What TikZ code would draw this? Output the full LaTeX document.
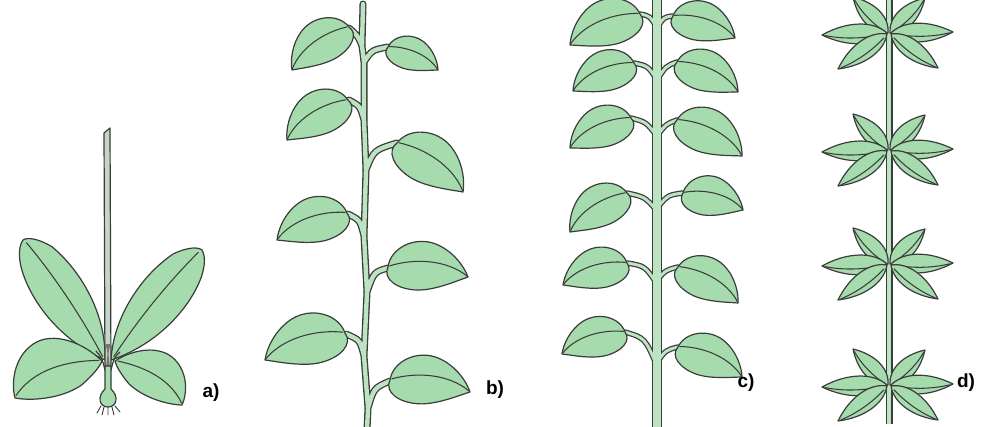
\documentclass[tikz,border=0pt]{standalone}
\usepackage{fontspec}
\setmainfont{Liberation Sans}
\definecolor{inkgray}{RGB}{58,60,58}
\definecolor{leafgreen}{RGB}{166,219,174}
\definecolor{stemgreen}{RGB}{188,227,194}
\definecolor{stemgray}{RGB}{196,214,198}

% leaf outlines in a unit frame: base at (0,0), tip at (1,0), +v is the bulging side
\newcommand\ovateleaf{%
  \filldraw[leafbody] (0,0) .. controls (0.0,0.28) and (0.28,0.5) .. (0.55,0.42)
    .. controls (0.78,0.35) and (0.94,0.14) .. (1,0)
    .. controls (0.86,-0.08) and (0.62,-0.25) .. (0.4,-0.28)
    .. controls (0.14,-0.31) and (-0.05,-0.18) .. cycle;
  \draw[vein] (0.02,0.02) .. controls (0.3,0.17) and (0.7,0.22) .. (0.99,0.01);}
\newcommand\ellipleaf{%
  \filldraw[leafbody] (0,0) .. controls (0.25,0.2) and (0.6,0.23) .. (0.85,0.15)
    .. controls (0.95,0.1) and (1,0.04) .. (1,0)
    .. controls (0.98,-0.06) and (0.9,-0.12) .. (0.78,-0.15)
    .. controls (0.55,-0.21) and (0.25,-0.17) .. cycle;
  \draw[vein] (0.03,0) .. controls (0.35,0.04) and (0.7,0.04) .. (0.97,0.01);}
\newcommand\broadleaf{%
  \filldraw[leafbody] (0,0) .. controls (0.1,0.25) and (0.35,0.5) .. (0.6,0.45)
    .. controls (0.85,0.4) and (0.98,0.15) .. (1,0)
    .. controls (0.85,-0.1) and (0.55,-0.2) .. (0.3,-0.15)
    .. controls (0.15,-0.1) and (0.05,-0.05) .. cycle;
  \draw[vein] (0.03,0.02) .. controls (0.35,0.15) and (0.7,0.2) .. (0.98,0.02);}
\newcommand\narrowleaf{%
  \filldraw[leafbody] (0,0) .. controls (0.2,0.17) and (0.6,0.18) .. (1,0)
    .. controls (0.6,-0.18) and (0.2,-0.17) .. cycle;
  \draw[vein] (0.08,0.02) .. controls (0.4,0.07) and (0.7,0.06) .. (0.95,0.01);}

% #1 shape, (#2,#3) base, (#4,#5) tip, #6 width factor, #7 side (+1 / -1)
% the unit frame is mapped by basis vectors: u along base->tip, v across it
\newcommand\placeleaf[7]{%
  \pgfmathsetmacro\lfdx{(#4)-(#2)}%
  \pgfmathsetmacro\lfmdy{(#3)-(#5)}%
  \pgfmathsetmacro\lfvx{(#7)*(#6)*((#5)-(#3))}%
  \pgfmathsetmacro\lfvy{(#7)*(#6)*((#4)-(#2))}%
  \begin{scope}[shift={(#2,#3)},x={(\lfdx pt,\lfmdy pt)},y={(\lfvx pt,\lfvy pt)}]
    #1
  \end{scope}}

% petioles of the opposite-leaved stem, drawn twice (outline, then fill)
\newcommand\cpetioles{%
    (657,28) .. controls (650,16) .. (640,14)   (657,28) .. controls (664,17) .. (673,16)
    (657,80) .. controls (648,66) .. (634,63)   (657,80) .. controls (666,66) .. (677,62)
    (657,136) .. controls (646,122) .. (631,118) (657,136) .. controls (666,124) .. (677,120)
    (657,211) .. controls (645,197) .. (627,193) (657,208) .. controls (668,195) .. (683,193)
    (657,284) .. controls (645,266) .. (627,263) (657,280) .. controls (666,270) .. (678,267)
    (657,366) .. controls (645,338) .. (625,332) (657,362) .. controls (666,350) .. (678,347)}

\begin{document}
\begin{tikzpicture}[x=1pt,y=-1pt,
  outline/.style={draw=inkgray,line width=1.2pt,line join=round,line cap=round},
  leafbody/.style={outline,fill=leafgreen},
  vein/.style={draw=inkgray,line width=1.05pt,line cap=round},
  tag/.style={font=\fontsize{19}{19}\selectfont\bfseries,text=black,inner sep=0pt}]
\useasboundingbox (0,0) rectangle (988,426);
\clip (0,0) rectangle (988,426);

% ---------- a) rosette with flower stalk ----------
\placeleaf{\ellipleaf}{105}{360}{23}{240}{0.92}{-1}
\placeleaf{\ellipleaf}{111}{360}{202}{250}{0.92}{1}
\filldraw[outline,fill=stemgray] (104,133) -- (110,128) -- (111,370) -- (105,370) -- cycle;
\placeleaf{\broadleaf}{102}{361}{15}{398}{1}{-1}
\placeleaf{\broadleaf}{115}{361}{182}{405}{0.95}{1}
\fill[inkgray!70] (105,344) .. controls (108,352) .. (106,367) -- (110,367) .. controls (108,352) .. (111,344) -- cycle;
\draw[outline] (96,351) .. controls (102,358) .. (105,370);
\draw[outline] (120,352) .. controls (114,358) .. (111,370);
\filldraw[outline,fill=leafgreen] (105,366) -- (105,389) .. controls (97,396) and (99,407) .. (108,407)
  .. controls (117,407) and (119,396) .. (111,389) -- (111,366) -- cycle;
\draw[outline,line width=0.9pt] (101,406) -- (97,413) (104,407) -- (102,415) (108,407) -- (108,415)
  (112,407) -- (114,415) (115,406) -- (120,412);

% ---------- b) alternate leaves ----------
\foreach \w/\c in {7/inkgray,4.4/stemgreen}{
  \draw[line width=\w pt,\c,line cap=round,line join=round]
    (363,4) -- (362,46) -- (364,62) -- (364,120) -- (366,170) -- (364,236) -- (367,292)
    -- (364,356) -- (368,408) -- (367,430)
    (362,46) .. controls (358,36) .. (349,28)
    (364,62) .. controls (372,50) .. (388,47)
    (364,120) .. controls (360,106) .. (349,100)
    (366,170) .. controls (374,150) .. (397,143)
    (364,236) .. controls (360,220) .. (348,214)
    (367,292) .. controls (374,272) .. (388,268)
    (364,356) .. controls (360,340) .. (346,334)
    (368,408) .. controls (374,388) .. (390,381);
}
\placeleaf{\ovateleaf}{349}{27}{292}{70}{0.85}{-1}
\placeleaf{\ovateleaf}{388}{47}{438}{70}{0.85}{1}
\placeleaf{\ovateleaf}{348}{100}{287}{140}{0.85}{-1}
\placeleaf{\ovateleaf}{397}{143}{463}{192}{0.85}{1}
\placeleaf{\ovateleaf}{347}{213}{277}{240}{0.85}{-1}
\placeleaf{\ovateleaf}{388}{267}{468}{277}{0.85}{1}
\placeleaf{\ovateleaf}{345}{333}{265}{360}{0.85}{-1}
\placeleaf{\ovateleaf}{390}{380}{470}{392}{0.85}{1}

% ---------- c) opposite leaves ----------
\draw[line width=5.5pt,inkgray,line cap=round,line join=round] \cpetioles;
\draw[line width=10.5pt,inkgray,line cap=butt] (657,-6) -- (657,430);
\draw[line width=7.5pt,stemgreen,line cap=butt] (657,-6) -- (657,430);
\draw[line width=3pt,stemgreen,line cap=round,line join=round] \cpetioles;
\placeleaf{\ovateleaf}{640}{14}{570}{45}{0.85}{-1}
\placeleaf{\ovateleaf}{673}{16}{735}{38}{0.85}{1}
\placeleaf{\ovateleaf}{634}{63}{573}{91}{0.85}{-1}
\placeleaf{\ovateleaf}{677}{62}{738}{92}{0.85}{1}
\placeleaf{\ovateleaf}{631}{118}{570}{148}{0.85}{-1}
\placeleaf{\ovateleaf}{677}{120}{742}{156}{0.85}{1}
\placeleaf{\ovateleaf}{627}{193}{570}{232}{0.85}{-1}
\placeleaf{\ovateleaf}{683}{193}{743}{210}{0.9}{1}
\placeleaf{\ovateleaf}{627}{263}{563}{285}{0.85}{-1}
\placeleaf{\ovateleaf}{678}{267}{738}{303}{0.85}{1}
\placeleaf{\ovateleaf}{625}{332}{562}{354}{0.85}{-1}
\placeleaf{\ovateleaf}{678}{347}{742}{377}{0.85}{1}

% ---------- d) whorled leaves ----------
\foreach \w/\c in {7/inkgray,4.4/stemgreen}{
  \draw[line width=\w pt,\c,line cap=butt] (889,-6) -- (889,424);
}
\foreach \cy in {33,150,264,385}{
  \placeleaf{\narrowleaf}{888}{\cy}{853}{\cy-36}{1.4}{1}
  \placeleaf{\narrowleaf}{890}{\cy}{925}{\cy-35}{1.4}{-1}
  \placeleaf{\narrowleaf}{887}{\cy}{822}{\cy+2}{1.15}{1}
  \placeleaf{\narrowleaf}{891}{\cy}{953}{\cy-1}{1.15}{-1}
  \placeleaf{\narrowleaf}{887}{\cy+1}{838}{\cy+36}{1.2}{1}
  \placeleaf{\narrowleaf}{891}{\cy+1}{938}{\cy+35}{1.2}{-1}
}

% ---------- labels ----------
\node[tag] (tagA) at (211,393) {a)};
\node[tag] (tagB) at (495,390) {b)};
\node[tag] (tagC) at (746,383) {c)};
\node[tag] (tagD) at (966,383) {d)};
\end{tikzpicture}
\end{document}
